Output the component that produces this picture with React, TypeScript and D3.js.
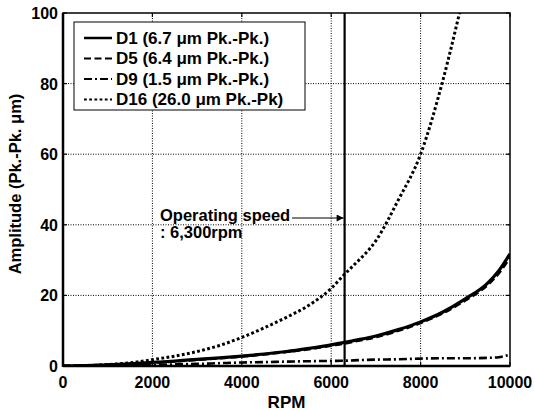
import React from "react";
import * as d3 from "d3";

const rpm = [0, 500, 1000, 1500, 2000, 2500, 3000, 3500, 4000, 4500, 5000, 5500, 6000, 6300, 6500, 7000, 7500, 8000, 8500, 9000, 9500, 9750, 10000];
const d1 = [0, 0.1, 0.3, 0.6, 1.0, 1.4, 1.9, 2.3, 2.8, 3.4, 4.1, 5.0, 6.0, 6.7, 7.2, 8.5, 10.3, 12.5, 15.3, 19.0, 23.5, 27.0, 31.8];
const d5 = [0, 0.1, 0.3, 0.6, 0.9, 1.3, 1.8, 2.2, 2.7, 3.3, 4.0, 4.8, 5.8, 6.4, 6.9, 8.2, 10.0, 12.2, 15.0, 18.6, 23.0, 26.3, 30.8];
const d9 = [0, 0.05, 0.1, 0.2, 0.3, 0.45, 0.6, 0.8, 1.0, 1.1, 1.25, 1.35, 1.45, 1.5, 1.6, 1.8, 1.9, 2.1, 2.2, 2.2, 2.3, 2.5, 3.2];
const d16Rpm = [0, 500, 1000, 1500, 2000, 2500, 3000, 3500, 4000, 4500, 5000, 5500, 6000, 6300, 6500, 7000, 7500, 8000, 8500, 8870];
const d16 = [0, 0.1, 0.4, 0.9, 1.8, 2.8, 4.1, 5.8, 8.1, 10.8, 13.8, 17.2, 22.0, 26.0, 28.5, 35.5, 47.0, 60.0, 81.0, 100.0];

const xTicks = [0, 2000, 4000, 6000, 8000, 10000];
const yTicks = [0, 20, 40, 60, 80, 100];
const legendLabels = [
  "D1 (6.7 \u03bcm Pk.-Pk.)",
  "D5 (6.4 \u03bcm Pk.-Pk.)",
  "D9 (1.5 \u03bcm Pk.-Pk.)",
  "D16 (26.0 \u03bcm Pk.-Pk)",
];
const operatingSpeed = 6300;

const dashes = ["", "7,3.5", "8,3,2,3", "2.8,2.4"];

export default function App() {
  const W = 535, H = 410;
  const L = 63, R = 510, T = 13, B = 366;
  const x = d3.scaleLinear().domain([0, 10000]).range([L, R]);
  const y = d3.scaleLinear().domain([0, 100]).range([B, T]);
  const font = "'Liberation Sans', Arial, sans-serif";

  const line = d3
    .line<[number, number]>()
    .x((d) => x(d[0]))
    .y((d) => y(d[1]))
    .curve(d3.curveMonotoneX);

  const series = [
    rpm.map((r, i) => [r, d1[i]] as [number, number]),
    rpm.map((r, i) => [r, d5[i]] as [number, number]),
    rpm.map((r, i) => [r, d9[i]] as [number, number]),
    d16Rpm.map((r, i) => [r, d16[i]] as [number, number]),
  ];
  const widths = [3.2, 2.8, 2.6, 3];

  const lx = 74, ly = 22, lw = 231, lh = 88;
  const rowBase = (i: number) => 43.5 + i * 20.5;

  return (
    <svg width={W} height={H} style={{ position: "absolute", left: 0, top: 0, background: "#fff" }}>
      <defs>
        <clipPath id="plot">
          <rect x={L} y={T} width={R - L} height={B - T} />
        </clipPath>
        <marker id="arr" viewBox="0 0 10 10" refX="10" refY="5" markerWidth="9" markerHeight="7" orient="auto" markerUnits="userSpaceOnUse">
          <path d="M0,0 L10,5 L0,10 z" fill="#000" />
        </marker>
      </defs>
      <rect x={0} y={0} width={W} height={H} fill="#fff" />
      {xTicks.slice(1, -1).map((t) => (
        <line key={"gx" + t} x1={x(t)} x2={x(t)} y1={T} y2={B} stroke="#000" strokeWidth={1} strokeDasharray="1,1.5" />
      ))}
      {yTicks.slice(1, -1).map((t) => (
        <line key={"gy" + t} x1={L} x2={R} y1={y(t)} y2={y(t)} stroke="#000" strokeWidth={1} strokeDasharray="1,1.5" />
      ))}
      <g clipPath="url(#plot)">
        {series.map((s, i) => (
          <path key={i} d={line(s) || ""} fill="none" stroke="#000" strokeWidth={widths[i]} strokeDasharray={dashes[i] || undefined} />
        ))}
      </g>
      <line x1={x(operatingSpeed)} x2={x(operatingSpeed)} y1={T} y2={B} stroke="#000" strokeWidth={2.2} />
      <rect x={L} y={T} width={R - L} height={B - T} fill="none" stroke="#000" strokeWidth={1.5} />
      <line x1={L} x2={L} y1={T} y2={B + 1} stroke="#000" strokeWidth={2.5} />
      <line x1={L} x2={R} y1={B} y2={B} stroke="#000" strokeWidth={2.5} />
      {xTicks.map((t) => (
        <g key={"xt" + t}>
          <line x1={x(t)} x2={x(t)} y1={B} y2={B - 4} stroke="#000" strokeWidth={1.2} />
          <line x1={x(t)} x2={x(t)} y1={T} y2={T + 4} stroke="#000" strokeWidth={1.2} />
          <text x={x(t)} y={B + 22} textAnchor="middle" fontFamily={font} fontWeight="bold" fontSize={16}>
            {t}
          </text>
        </g>
      ))}
      {yTicks.map((t) => (
        <g key={"yt" + t}>
          <line x1={L} x2={L + 4} y1={y(t)} y2={y(t)} stroke="#000" strokeWidth={1.2} />
          <line x1={R} x2={R - 4} y1={y(t)} y2={y(t)} stroke="#000" strokeWidth={1.2} />
          <text x={L - 5} y={y(t) + 6} textAnchor="end" fontFamily={font} fontWeight="bold" fontSize={16}>
            {t}
          </text>
        </g>
      ))}
      <text x={(L + R) / 2} y={407.5} textAnchor="middle" fontFamily={font} fontWeight="bold" fontSize={17}>
        RPM
      </text>
      <text transform={`translate(20.5,184) rotate(-90)`} textAnchor="middle" fontFamily={font} fontWeight="bold" fontSize={16.5}>
        Amplitude (Pk.-Pk. {"\u03bc"}m)
      </text>
      <rect x={lx} y={ly} width={lw} height={lh} fill="#fff" stroke="#000" strokeWidth={1} />
      {legendLabels.map((lab, i) => (
        <g key={lab}>
          <line x1={84} x2={112} y1={rowBase(i) - 5.5} y2={rowBase(i) - 5.5} stroke="#000" strokeWidth={i === 0 ? 2.5 : 2} strokeDasharray={dashes[i] || undefined} />
          <text x={116} y={rowBase(i)} fontFamily={font} fontWeight="bold" fontSize={17}>
            {lab}
          </text>
        </g>
      ))}
      <text x={160} y={220.5} fontFamily={font} fontWeight="bold" fontSize={16.5}>
        Operating speed
      </text>
      <text x={160} y={237.5} fontFamily={font} fontWeight="bold" fontSize={16.5}>
        : 6,300rpm
      </text>
      <line x1={292} x2={x(operatingSpeed) - 1} y1={218} y2={218} stroke="#000" strokeWidth={1.2} markerEnd="url(#arr)" />
    </svg>
  );
}
